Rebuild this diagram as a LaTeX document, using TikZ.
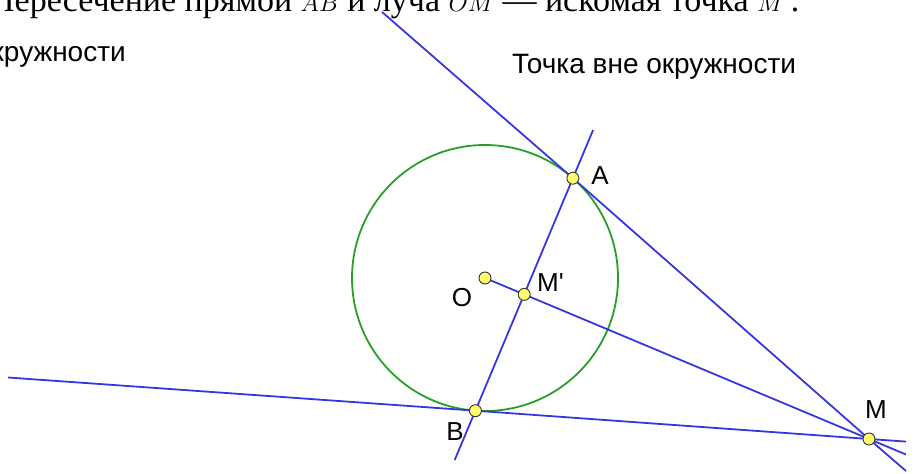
\documentclass[tikz,border=0pt]{standalone}
\usepackage{fontspec}
\setmainfont{Liberation Serif}
\newfontfamily\ggfont{Liberation Sans}
\definecolor{ggblue}{RGB}{55,55,225}
\definecolor{gggreen}{RGB}{40,160,40}
\definecolor{ggyellow}{RGB}{255,255,110}
\tikzset{
  gline/.style={ggblue,line width=1.8pt},
  gpt/.style={circle,fill=ggyellow,draw=black!80,line width=0.9pt,inner sep=0pt,minimum size=12pt},
  glbl/.style={font=\ggfont\fontsize{26}{26}\selectfont,inner sep=0pt,anchor=base},
}
\begin{document}
\begin{tikzpicture}[x=1pt,y=-1pt]
\useasboundingbox (0,0) rectangle (919,474);
\clip (0,0) rectangle (919,474);
% headings (partly cut off)
\node[anchor=base west,inner sep=0pt,font=\fontsize{34}{34}\selectfont] (head) at (-10,11)
  {Пересечение прямой $AB$ и луча $OM$ — искомая точка $M'$.};
\node[anchor=base east,inner sep=0pt,font=\ggfont\fontsize{28}{28}\selectfont] (left) at (126,61) {Точка внутри окружности};
\node[anchor=base,inner sep=0pt,font=\ggfont\fontsize{28}{28}\selectfont] (title) at (654,73) {Точка вне окружности};
% points
\coordinate (O) at (485,278);
\coordinate (A) at (572.9,178.2);
\coordinate (B) at (475.4,410.7);
\coordinate (M) at (869,439);
\coordinate (Mp) at (524.2,294.4);
% free ends of the lines
\coordinate (AMa) at (382,12);
\coordinate (AMb) at (906,471);
\coordinate (BMa) at (8,377.5);
\coordinate (BMb) at (906,441.6);
\coordinate (ABa) at (593.1,130);
\coordinate (ABb) at (454.7,460);
\coordinate (OMb) at (906,454.5);
% circle
\draw[gggreen,line width=1.8pt] (O) circle[radius=133];
% lines
\draw[gline] (AMa) -- (A) -- (M) -- (AMb);
\draw[gline] (BMa) -- (B) -- (M) -- (BMb);
\draw[gline] (ABa) -- (A) -- (B) -- (ABb);
\draw[gline] (O) -- (Mp) -- (M) -- (OMb);
% dots
\foreach \p in {O,A,B,M,Mp} \node[gpt] at (\p) {};
% labels
\node[glbl] (lA) at (600,184) {A};
\node[glbl] (lB) at (455,440) {B};
\node[glbl] (lO) at (462,306) {O};
\node[glbl,anchor=base west] (lMp) at (537,291) {M'};
\node[glbl] (lM) at (876,418) {M};
\end{tikzpicture}
\end{document}
